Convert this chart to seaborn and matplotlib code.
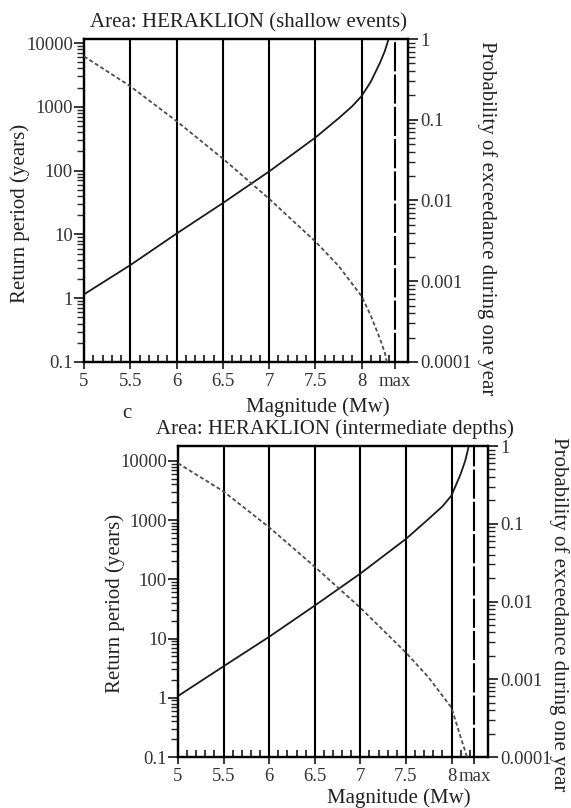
import numpy as np
import pandas as pd
import matplotlib
matplotlib.use("Agg")
import matplotlib.pyplot as plt
import seaborn as sns
from matplotlib.ticker import LogLocator, NullFormatter, FixedLocator

# shallow events (top panel)
shallow_mag = [5.0, 5.5, 6.0, 6.5, 7.0, 7.5, 7.75, 7.9, 8.0, 8.1, 8.2, 8.25, 8.29]
shallow_return = [1.15, 3.3, 10.3, 31, 97, 330, 660, 1030, 1480, 2500, 5000, 7500, 11500]
shallow_prob_mag = [5.0, 5.5, 6.0, 6.5, 7.0, 7.5, 7.75, 8.0, 8.1, 8.2, 8.25, 8.27]
shallow_prob = [0.61, 0.26, 0.096, 0.033, 0.0105, 0.0031, 0.00155, 0.00065, 0.00037, 0.00019, 0.00013, 0.0001]
shallow_max = 8.355

# intermediate depths (bottom panel)
deep_mag = [5.0, 5.5, 6.0, 6.5, 7.0, 7.5, 7.75, 7.9, 8.0, 8.1, 8.15, 8.19]
deep_return = [1.07, 3.4, 10.7, 36, 125, 480, 1050, 1700, 2600, 6000, 10000, 17800]
deep_prob_mag = [5.0, 5.5, 6.0, 6.5, 7.0, 7.5, 7.75, 8.0, 8.1, 8.17]
deep_prob = [0.6, 0.26, 0.09, 0.028, 0.0083, 0.0022, 0.00105, 0.00043, 0.00018, 0.0001]
deep_max = 8.25

mag_ticks = [5, 5.5, 6, 6.5, 7, 7.5, 8]
mag_labels = ["5", "5.5", "6", "6.5", "7", "7.5", "8"]
left_ticks = [0.1, 1, 10, 100, 1000, 10000]
left_labels = ["0.1", "1", "10", "100", "1000", "10000"]
right_ticks = [0.0001, 0.001, 0.01, 0.1, 1]
right_labels = ["0.0001", "0.001", "0.01", "0.1", "1"]

sns.set_style("ticks")
plt.rcParams["font.family"] = ["Liberation Serif", "DejaVu Serif"]
plt.rcParams["axes.linewidth"] = 1.6
plt.rcParams["axes.edgecolor"] = "black"

W, H = 571, 808
TICK_FS = 13.5
LABEL_FS = 15


def draw_panel(fig, box, mag, ret, pmag, prob, mmax, xmax, ytop):
    left, top, right, bottom = box
    ax = fig.add_axes([left / W, 1 - bottom / H, (right - left) / W, (bottom - top) / H])
    ax.set_yscale("log")
    ax.set_xlim(5, xmax)
    ax.set_ylim(0.1, ytop)

    # vertical reference lines
    for m in mag_ticks[1:]:
        ax.axvline(m, color="black", lw=1.5, zorder=1)
    ax.axvline(mmax, color="black", lw=1.5, ls=(0, (14, 1.5)), zorder=1)

    df = pd.DataFrame({"mag": mag, "ret": ret})
    sns.lineplot(data=df, x="mag", y="ret", ax=ax, color="#1a1a1a", lw=1.3, sort=False, zorder=3)

    ax.set_xticks(mag_ticks + [mmax])
    ax.set_xticklabels(mag_labels + ["max"])
    ax.xaxis.set_minor_locator(FixedLocator([round(v, 1) for v in np.arange(5.1, mmax, 0.1)
                                             if round(v, 1) not in mag_ticks]))
    ax.set_yticks(left_ticks)
    ax.set_yticklabels(left_labels)
    ax.yaxis.set_minor_locator(LogLocator(base=10, subs=np.arange(2, 10)))
    ax.yaxis.set_minor_formatter(NullFormatter())
    ax.tick_params(axis="x", which="major", direction="out", length=5, width=1.3,
                   labelsize=TICK_FS, labelcolor="#333333", pad=3)
    ax.tick_params(axis="x", which="minor", direction="in", length=5, width=1.3)
    ax.tick_params(axis="y", which="major", direction="out", length=7, width=1.3,
                   labelsize=TICK_FS, labelcolor="#333333", pad=1)
    ax.tick_params(axis="y", which="minor", direction="out", length=5, width=1.0)
    ax.set_xlabel("")
    ax.set_ylabel("")

    ax2 = ax.twinx()
    ax2.set_yscale("log")
    ax2.set_ylim(0.0001, 1)
    dfp = pd.DataFrame({"mag": pmag, "prob": prob})
    sns.lineplot(data=dfp, x="mag", y="prob", ax=ax2, color="#4d4d4d", lw=1.3, sort=False,
                 linestyle=(0, (2.2, 1.4)), zorder=3)
    ax2.set_yticks(right_ticks)
    ax2.set_yticklabels(right_labels)
    ax2.yaxis.set_minor_locator(LogLocator(base=10, subs=np.arange(2, 10)))
    ax2.yaxis.set_minor_formatter(NullFormatter())
    ax2.tick_params(axis="y", which="major", direction="out", length=7, width=1.3,
                    labelsize=TICK_FS, labelcolor="#333333", pad=2)
    ax2.tick_params(axis="y", which="minor", direction="out", length=5, width=1.0)
    ax2.set_ylabel("")
    ax2.set_xlim(5, xmax)
    for sp in ax2.spines.values():
        sp.set_linewidth(1.6)
    return ax, ax2


fig = plt.figure(figsize=(W / 100, H / 100), dpi=100)

draw_panel(fig, (84, 39, 408, 362), shallow_mag, shallow_return, shallow_prob_mag, shallow_prob,
           shallow_max, 8.5, 10 ** 4.063)
draw_panel(fig, (178, 446, 488, 757), deep_mag, deep_return, deep_prob_mag, deep_prob,
           deep_max, 8.4, 10 ** 4.25)


def ftext(x, y, s, **kw):
    fig.text(x / W, 1 - y / H, s, ha="center", va="center", fontsize=LABEL_FS, color="#222222", **kw)


ftext(248, 23, "Area: HERAKLION (shallow events)")
ftext(20, 213, "Return period (years)", rotation=90)
ftext(487, 218, "Probability of exceedance during one year", rotation=270)
ftext(318, 407, "Magnitude (Mw)")

ftext(127, 414, "c")
ftext(335, 429, "Area: HERAKLION (intermediate depths)")
ftext(115, 603, "Return period (years)", rotation=90)
ftext(559, 614, "Probability of exceedance during one year", rotation=270)
ftext(399, 798, "Magnitude (Mw)")

fig.savefig("out.png", dpi=100)
